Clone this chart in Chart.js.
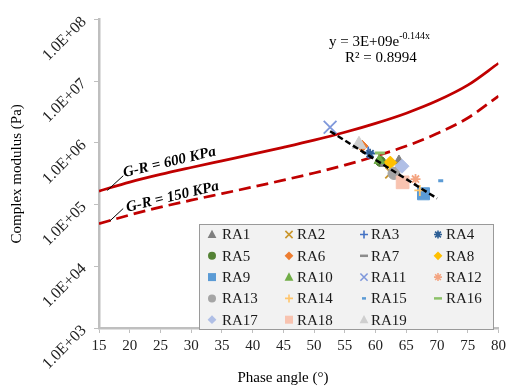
<!DOCTYPE html>
<html><head><meta charset="utf-8">
<script src="https://cdn.jsdelivr.net/npm/chart.js@4.4.1/dist/chart.umd.min.js"></script>
<style>html,body{margin:0;padding:0;background:#fff;}#wrap{width:510px;height:389px;}</style>
</head><body><div id="wrap"><canvas id="c" width="510" height="389"></canvas></div>
<script>
// ---- data ----
const phaseGrid = [15,20,25,30,35,40,45,50,55,60,65,70,75,80];
const gr600 = [1.66e5,2.32e5,3.09e5,4.0e5,5.13e5,6.57e5,8.49e5,1.11e6,1.49e6,2.08e6,3.04e6,4.82e6,8.65e6,1.96e7];
const gr150 = [4.9e4,6.8e4,9.1e4,1.18e5,1.51e5,1.93e5,2.5e5,3.26e5,4.38e5,6.1e5,8.9e5,1.42e6,2.54e6,5.76e6];
const sampleNames = ['RA1','RA2','RA3','RA4','RA5','RA6','RA7','RA8','RA9','RA10','RA11','RA12','RA13','RA14','RA15','RA16','RA17','RA18','RA19'];
const samplePhase = [63.8,62.5,58.8,59.1,60.8,57.8,61.4,62.4,67.8,60.6,52.6,66.5,63.0,67.2,70.6,60.7,64.3,64.4,57.3];
const sampleModulus = [5.1e5,3.3e5,7.0e5,6.7e5,5.0e5,8.9e5,4.3e5,4.8e5,1.5e5,5.2e5,1.8e6,2.6e5,3.2e5,1.7e5,2.45e5,6.9e5,4.2e5,2.3e5,9.5e5];
const trendPhase = [52.6,70.0];
const trendModulus = [1.55e6,1.26e5];
const yTickValues = [1e3,1e4,1e5,1e6,1e7,1e8];
const curveLabels = ['G-R = 600 KPa','G-R = 150 KPa'];
const equationMain = 'y = 3E+09e';
const equationExp = '-0.144x';
const equationR2 = 'R\u00B2 = 0.8994';

// ---- styles ----
const sampleShape = ['triangle','crossRot','cross','star','circle','rectRot','line','rectRot','rect','triangle','crossRot','star','circle','cross','line','line','rectRot','rect','triangle'];
const sampleColor = ['#7f7f7f','#c9962c','#4472c4','#2e5f95','#548235','#ed7d31','#8c8c8c','#ffc000','#5b9bd5','#70ad47','#7f98db','#f4a582','#a5a5a5','#ffc56b','#5b9bd5','#8cc168','#b0bfe6','#f8c3b0','#cfcfcf'];
const sampleRadius = [6,8,6,5,5,6,4,6.5,8.5,6,9,5,6,5.5,2.5,5,7,9,8];
const strokeShapes = ['cross','crossRot','star','line'];
const SERIF = '"Liberation Serif", "Times New Roman", serif';

const datasets = [];
datasets.push({label:'gr600', data: phaseGrid.map((x,i)=>({x, y: gr600[i]})), showLine:true, pointRadius:0,
  borderColor:'#c00000', borderWidth:2.75, cubicInterpolationMode:'monotone', order:300});
datasets.push({label:'gr150', data: phaseGrid.map((x,i)=>({x, y: gr150[i]})), showLine:true, pointRadius:0,
  borderColor:'#c00000', borderWidth:2.75, borderDash:[12,6], cubicInterpolationMode:'monotone', order:300});
sampleNames.forEach((name,i)=>{
  const isStroke = strokeShapes.includes(sampleShape[i]);
  datasets.push({label:name, data:[{x:samplePhase[i], y:sampleModulus[i]}], showLine:false,
    pointStyle:sampleShape[i], pointRadius:sampleRadius[i], pointHoverRadius:sampleRadius[i],
    backgroundColor:sampleColor[i], borderColor:sampleColor[i],
    pointBorderWidth: sampleShape[i]==='line' ? 3 : (isStroke ? 1.8 : 1), order:100 - i});
});
datasets.push({label:'trend', data: trendPhase.map((x,i)=>({x, y: trendModulus[i]})), showLine:true, pointRadius:0,
  borderColor:'#000', borderWidth:2.5, borderDash:[6,3], order:0});

function drawMarker(ctx, shape, x, y, s, color){
  ctx.save();
  ctx.fillStyle = color; ctx.strokeStyle = color; ctx.lineWidth = 1.6;
  ctx.beginPath();
  switch(shape){
    case 'triangle': ctx.moveTo(x, y-s*0.6); ctx.lineTo(x+s*0.55, y+s*0.45); ctx.lineTo(x-s*0.55, y+s*0.45); ctx.closePath(); ctx.fill(); break;
    case 'circle': ctx.arc(x, y, s*0.5, 0, Math.PI*2); ctx.fill(); break;
    case 'rect': ctx.rect(x-s*0.5, y-s*0.5, s, s); ctx.fill(); break;
    case 'rectRot': ctx.moveTo(x, y-s*0.55); ctx.lineTo(x+s*0.55, y); ctx.lineTo(x, y+s*0.55); ctx.lineTo(x-s*0.55, y); ctx.closePath(); ctx.fill(); break;
    case 'cross': ctx.moveTo(x-s*0.5,y); ctx.lineTo(x+s*0.5,y); ctx.moveTo(x,y-s*0.5); ctx.lineTo(x,y+s*0.5); ctx.stroke(); break;
    case 'crossRot': ctx.moveTo(x-s*0.45,y-s*0.45); ctx.lineTo(x+s*0.45,y+s*0.45); ctx.moveTo(x+s*0.45,y-s*0.45); ctx.lineTo(x-s*0.45,y+s*0.45); ctx.stroke(); break;
    case 'star': ctx.moveTo(x-s*0.5,y); ctx.lineTo(x+s*0.5,y); ctx.moveTo(x,y-s*0.5); ctx.lineTo(x,y+s*0.5);
      ctx.moveTo(x-s*0.36,y-s*0.36); ctx.lineTo(x+s*0.36,y+s*0.36); ctx.moveTo(x+s*0.36,y-s*0.36); ctx.lineTo(x-s*0.36,y+s*0.36); ctx.stroke(); break;
    case 'line': ctx.lineWidth = 2.5; ctx.moveTo(x-s*0.5,y); ctx.lineTo(x+s*0.5,y); ctx.stroke(); break;
  }
  ctx.restore();
}

const extrasPlugin = {
  id:'extras',
  afterDraw(chart){
    const ctx = chart.ctx, xs = chart.scales.x, ys = chart.scales.y;
    ctx.save();
    const leaders = [[16.35,1.70e5,18.94,2.94e5],[16.78,5.45e4,18.94,8.65e4]];
    const labelPos = [[19.1,2.80e5],[19.6,7.70e4]];
    ctx.strokeStyle = '#000'; ctx.lineWidth = 1;
    leaders.forEach(l=>{
      ctx.beginPath(); ctx.moveTo(xs.getPixelForValue(l[0]), ys.getPixelForValue(l[1]));
      ctx.lineTo(xs.getPixelForValue(l[2]), ys.getPixelForValue(l[3])); ctx.stroke();
    });
    ctx.fillStyle = '#000'; ctx.font = 'bold italic 15px ' + SERIF; ctx.textAlign='left'; ctx.textBaseline='alphabetic';
    labelPos.forEach((p,i)=>{
      ctx.save(); ctx.translate(xs.getPixelForValue(p[0]), ys.getPixelForValue(p[1]));
      ctx.rotate(-13.3*Math.PI/180); ctx.fillText(curveLabels[i], 0, 0); ctx.restore();
    });
    ctx.font = '15px ' + SERIF; ctx.fillStyle = '#000';
    ctx.fillText(equationMain, 329, 46);
    const w = ctx.measureText(equationMain).width;
    ctx.font = '10px ' + SERIF; ctx.fillText(equationExp, 329 + w, 39);
    ctx.font = '15px ' + SERIF; ctx.fillText(equationR2, 345, 62);
    ctx.textAlign = 'center'; ctx.fillText('Phase angle (\u00B0)', 283, 382);
    ctx.fillStyle = '#f2f2f2'; ctx.strokeStyle = '#9a9a9a'; ctx.lineWidth = 1;
    ctx.fillRect(199, 224, 294, 105); ctx.strokeRect(199.5, 224.5, 294, 105);
    const colMarker = [212, 289, 364, 438], colText = [222, 297, 371, 446];
    ctx.font = '15px ' + SERIF; ctx.textAlign='left'; ctx.textBaseline='middle';
    sampleNames.forEach((name,i)=>{
      const r = Math.floor(i/4), c = i%4;
      const yy = 234.5 + r*21.3;
      const sz = sampleShape[i]==='line' && i===14 ? 4 : 8;
      drawMarker(ctx, sampleShape[i], colMarker[c], yy, sz, sampleColor[i]);
      ctx.fillStyle = '#1a1a1a'; ctx.fillText(name, colText[c], yy + 1);
    });
    ctx.restore();
  }
};

new Chart(document.getElementById('c'), {
  type:'scatter',
  data:{datasets},
  options:{
    responsive:false, animation:false, devicePixelRatio:1,
    layout:{padding:{top:14, right:10, left:0, bottom:0}},
    plugins:{legend:{display:false}, tooltip:{enabled:false}},
    scales:{
      x:{type:'linear', min:15, max:80,
        ticks:{stepSize:5, font:{family:SERIF, size:15}, color:'#222', padding:4, maxRotation:0},
        grid:{drawOnChartArea:false, drawTicks:true, tickLength:5, color:'#bfbfbf', lineWidth:1},
        border:{color:'#bfbfbf', width:2.5},
        afterFit(s){ s.height = 389 - 328; }
      },
      y:{type:'logarithmic', min:1e3, max:1e8,
        afterBuildTicks(s){ s.ticks = yTickValues.map(v=>({value:v})); },
        ticks:{minRotation:45, maxRotation:45, padding:10, font:{family:SERIF, size:16}, color:'#222',
          callback(v){ const e = Math.round(Math.log10(v)); return '1.0E+' + String(e).padStart(2,'0'); }},
        grid:{drawOnChartArea:false, drawTicks:true, tickLength:5, color:'#bfbfbf', lineWidth:1},
        border:{color:'#bfbfbf', width:2.5},
        title:{display:true, text:'Complex modulus (Pa)', font:{family:SERIF, size:15}, color:'#000', padding:{top:8, bottom:0}},
        afterFit(s){ s.width = 99; }
      }
    }
  },
  plugins:[extrasPlugin]
});
</script>
</body></html>
